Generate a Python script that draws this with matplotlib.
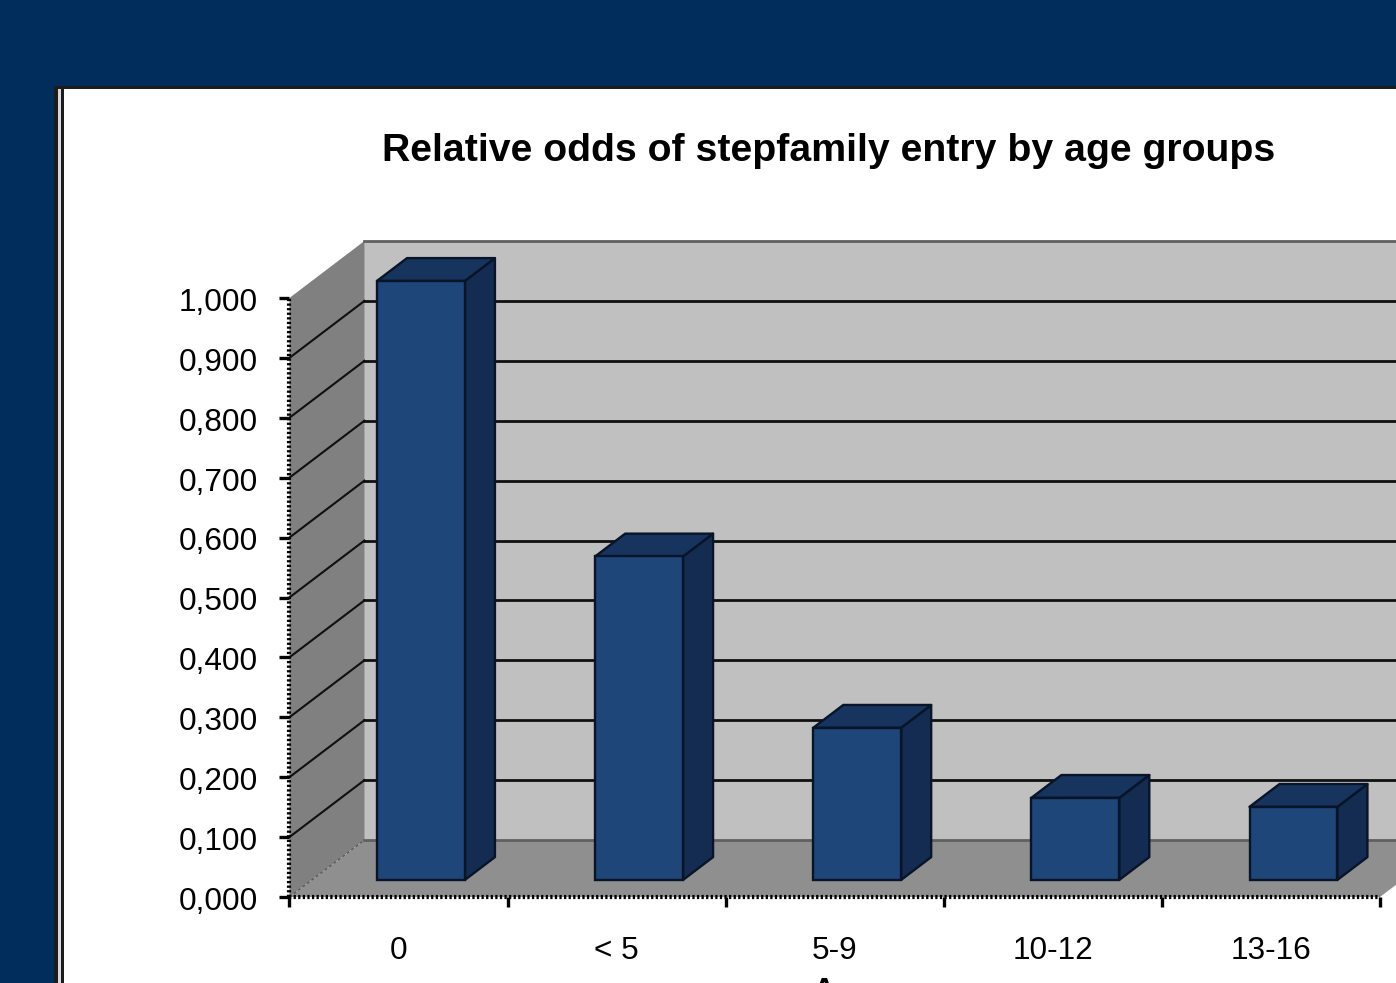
import matplotlib
matplotlib.use('Agg')
import matplotlib.pyplot as plt
from matplotlib.patches import Rectangle
from matplotlib.transforms import ScaledTranslation

plt.rcParams['font.family'] = ['Liberation Sans', 'DejaVu Sans']

# age groups and the relative odds
categories = ['0', '< 5', '5-9', '10-12', '13-16']
values = [1.0, 0.54, 0.254, 0.137, 0.122]
y_ticks = [0.0, 0.1, 0.2, 0.3, 0.4, 0.5, 0.6, 0.7, 0.8, 0.9, 1.0]
y_labels = ['0,000', '0,100', '0,200', '0,300', '0,400', '0,500',
            '0,600', '0,700', '0,800', '0,900', '1,000']
title = 'Relative odds of stepfamily entry by age groups'
x_title = 'Age'

W, H = 1396, 983
NAVY = '#002d5c'

# one unit of "depth" is the whole floor, front edge to back wall
DX = 75 / 218.0
DY = 57 / 599.0


def proj(x, y, d):
    return x + d * DX, y + d * DY


def face(ax, corners, color, z, edge='none', lw=0):
    xs = [c[0] for c in corners]
    ys = [c[1] for c in corners]
    ax.fill(xs, ys, facecolor=color, edgecolor=edge, linewidth=lw, zorder=z,
            clip_on=False, joinstyle='round')


fig = plt.figure(figsize=(W / 100, H / 100), dpi=100, facecolor=NAVY)

# slide frame behind the chart
fig.patches.append(Rectangle((54 / W, 0), (W - 54) / W, 1 - 86 / H, transform=fig.transFigure,
                             facecolor='#1c1c1c', edgecolor='none', zorder=-5))
fig.patches.append(Rectangle((58 / W, 0), 3 / W, 1 - 89 / H, transform=fig.transFigure,
                             facecolor='#d8d8d8', edgecolor='none', zorder=-4))
fig.patches.append(Rectangle((64 / W, 0), (W - 64) / W, 1 - 89 / H, transform=fig.transFigure,
                             facecolor='white', edgecolor='none', zorder=-4))

ax = fig.add_axes([289.4 / W, 1 - 897 / H, 1090.6 / W, 599 / H])
ax.patch.set_visible(False)
ax.set_xlim(0, 5)
ax.set_ylim(0, 1)
for s in ax.spines.values():
    s.set_visible(False)

n = len(categories)
far = n + 1

# walls and floor
face(ax, [proj(0, 0, 1), proj(far, 0, 1), proj(far, 1, 1), proj(0, 1, 1)], '#c0c0c0', 1)
face(ax, [proj(0, 0, 0), proj(0, 0, 1), proj(0, 1, 1), proj(0, 1, 0)], '#808080', 1)
face(ax, [proj(0, 0, 0), proj(n, 0, 0), proj(n, 0, 1), proj(far, 0, 1), proj(0, 0, 1)], '#8f8f8f', 1)

# gridlines run along the side wall and across the back
for t in y_ticks:
    x0, y0 = proj(0, t, 0)
    x1, y1 = proj(0, t, 1)
    x2, y2 = proj(far, t, 1)
    soft = t in (0.0, 1.0)
    c = '#606060' if soft else '#101010'
    if t > 0 and t < 1:
        ax.plot([x0, x1], [y0, y1], color=c, lw=1.5, zorder=2, clip_on=False)
    elif t == 0:
        ax.plot([x0, x1], [y0, y1], color='#5a5a5a', lw=1, ls=(0, (2, 2)), zorder=2, clip_on=False)
    ax.plot([x1, x2], [y1, y2], color=c, lw=2, zorder=2, clip_on=False)

# the jagged axis edges
ax.plot([0, n], [0, 0], color='black', lw=3, ls=(0, (0.55, 0.55)), zorder=3, clip_on=False)
ax.plot([0, 0], [0, 1], color='black', lw=3, ls=(0, (0.55, 0.55)), zorder=3, clip_on=False)

# bars, sitting 0.3 of the way into the floor and 0.4 deep
bar_w = 0.403
front = 0.3
deep = 0.4
centers = [i + 0.5 for i in range(n)]
x_front = [proj(c, 0, front)[0] for c in centers]
y_front = proj(0, 0, front)[1]
ax.bar(x_front, values, width=bar_w, bottom=y_front, color='#1f4679', edgecolor='#081428',
       linewidth=1.7, zorder=6, clip_on=False)
for c, v in zip(centers, values):
    l, r = c - bar_w / 2, c + bar_w / 2
    face(ax, [proj(r, 0, front), proj(r, 0, front + deep), proj(r, v, front + deep), proj(r, v, front)],
         '#142c52', 5, '#081428', 1.7)
    face(ax, [proj(l, v, front), proj(r, v, front), proj(r, v, front + deep), proj(l, v, front + deep)],
         '#17345f', 5, '#081428', 1.7)

# axes
ax.set_yticks(y_ticks)
ax.set_yticklabels(y_labels, fontsize=22.7, color='black')
ax.tick_params(axis='y', length=7.5, width=2.4, pad=15, color='black')
ax.set_xticks(range(n + 1))
ax.set_xticklabels([])
ax.tick_params(axis='x', which='major', length=7, width=2.4, color='black')
ax.set_xticks(centers, minor=True)
ax.set_xticklabels(categories, minor=True, fontsize=22.7, color='black')
ax.tick_params(axis='x', which='minor', length=0, pad=28)

# nudge labels to where the slide has them
shift_y = ScaledTranslation(0, -1 / 72, fig.dpi_scale_trans)
for lab in ax.get_yticklabels():
    lab.set_transform(lab.get_transform() + shift_y)

ax.set_xlabel(x_title, fontsize=22.7, fontweight='bold')
ax.xaxis.set_label_coords(0.5065, -0.134)
ax.xaxis.label.set_verticalalignment('top')

fig.text(829 / W, 1 - 151 / H, title, fontsize=28.25, fontweight='bold', color='black',
         ha='center', va='center')

fig.savefig('out.png', dpi=100, facecolor=NAVY)
